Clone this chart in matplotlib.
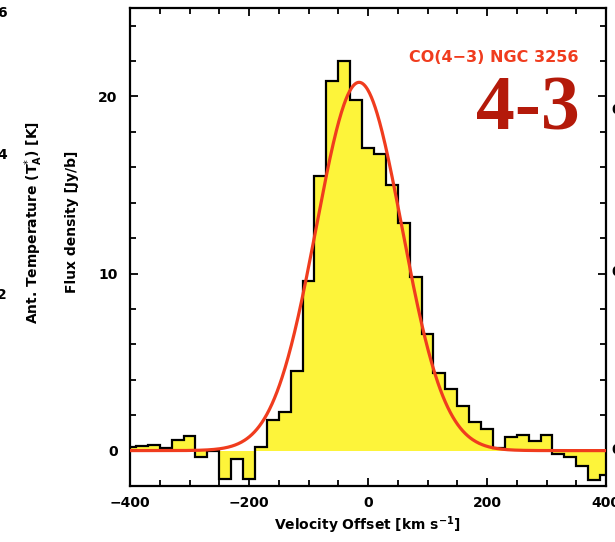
import numpy as np
import matplotlib
matplotlib.use('Agg')
import matplotlib.pyplot as plt
from matplotlib.ticker import MultipleLocator

# channel centres [km/s] and flux density [Jy/beam]
velocity = [-400, -380, -360, -340, -320, -300, -280, -260, -240, -220,
            -200, -180, -160, -140, -120, -100, -80, -60, -40, -20,
            0, 20, 40, 60, 80, 100, 120, 140, 160, 180,
            200, 220, 240, 260, 280, 300, 320, 340, 360, 380, 400]
flux = [0.22, 0.28, 0.32, 0.15, 0.6, 0.85, -0.34, 0.0, -1.62, -0.5,
        -1.62, 0.2, 1.75, 2.2, 4.5, 9.6, 15.5, 20.9, 22.0, 19.8,
        17.1, 16.75, 15.0, 12.85, 9.8, 6.6, 4.37, 3.48, 2.54, 1.6,
        1.2, 0.15, 0.75, 0.88, 0.56, 0.9, -0.19, -0.34, -0.85, -1.66, -1.36]

x_ticks = [-400, -200, 0, 200, 400]
x_ticklabels = ['\u2212400', '\u2212200', '0', '200', '400']
y_ticks = [0, 10, 20]

# gaussian fit: amplitude, centre, sigma
fit_amp = 20.8
fit_center = -15.0
fit_sigma = 72.0

yellow = '#fdf43a'
fit_red = '#f03c1e'

fig = plt.figure(figsize=(6.15, 5.42), dpi=100)
ax = fig.add_axes([0.2114, 0.1033, 0.774, 0.882])

chan_w = 20
edges = np.append(np.array(velocity) - chan_w / 2, velocity[-1] + chan_w / 2)
ax.stairs(flux, edges, baseline=0, fill=True, color=yellow, lw=0, zorder=1)
ax.stairs(flux, edges, baseline=None, color='black', lw=1.6, zorder=2)

v = np.linspace(-420, 420, 800)
model = fit_amp * np.exp(-0.5 * ((v - fit_center) / fit_sigma) ** 2)
ax.plot(v, model, color=fit_red, lw=2.3, zorder=3)

ax.set_xlim(-400, 400)
ax.set_ylim(-2, 25)
ax.set_xticks(x_ticks)
ax.set_xticklabels(x_ticklabels, fontweight='bold')
ax.set_yticks(y_ticks)
ax.set_yticklabels([str(t) for t in y_ticks], fontweight='bold')
ax.xaxis.set_minor_locator(MultipleLocator(50))
ax.yaxis.set_minor_locator(MultipleLocator(2))
ax.tick_params(which='both', direction='in', top=True, right=True, width=1.3)
ax.tick_params(which='major', length=6, labelsize=10, pad=7)
ax.tick_params(which='minor', length=4)
ax.tick_params(axis='y', pad=9)
for s in ax.spines.values():
    s.set_linewidth(1.6)

fig.text(0.597, 0.031, 'Velocity Offset [km s$^{\\mathbf{-1}}$]', ha='center', va='center',
         fontsize=10, fontweight='bold')
fig.text(0.117, 0.590, 'Flux density [Jy/b]', rotation=90, ha='center', va='center',
         fontsize=10, fontweight='bold')
fig.text(0.054, 0.589, 'Ant. Temperature (T$_{\\mathbf{A}}^{*}$) [K]', rotation=90,
         ha='center', va='center', fontsize=10, fontweight='bold')

# labels of the neighbouring panels, cut by the crop
for ypx, t in [(13, '6'), (155, '4'), (295, '2')]:
    fig.text(7 / 615, 1 - ypx / 542, t, ha='right', va='center', fontsize=10, fontweight='bold')
for ypx in [110, 272, 450]:
    fig.text(611 / 615, 1 - ypx / 542, '0', ha='left', va='center', fontsize=10, fontweight='bold')

ax.text(0.765, 0.897, 'CO(4\u22123) NGC 3256', transform=ax.transAxes, ha='center', va='center',
        color=fit_red, fontsize=11.5, fontweight='bold')
ax.text(0.835, 0.785, '4-3', transform=ax.transAxes, ha='center', va='center',
        color='#b41a0a', fontsize=56, fontweight='bold', family='Liberation Serif')

fig.savefig('out.png', dpi=100)
